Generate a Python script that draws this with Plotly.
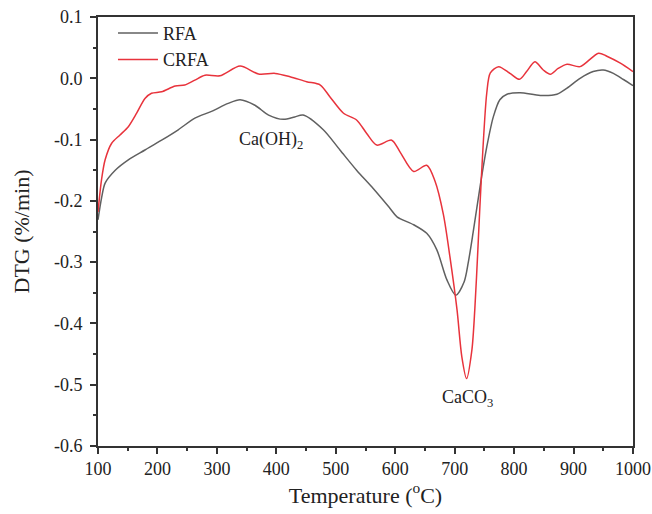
import plotly.graph_objects as go

# RFA (gray) DTG curve
rfa_T = [100, 106, 112, 129, 151, 179, 207, 235, 263, 291, 319, 339, 364, 387, 412, 431, 445,
         479, 507, 535, 563, 591, 603, 631, 653, 670, 687, 702, 716, 723, 731, 743, 754, 765,
         776, 788, 810, 844, 872, 889, 911, 933, 950, 967, 984, 1000]
rfa_v = [-0.231, -0.195, -0.171, -0.150, -0.133, -0.117, -0.101, -0.084, -0.065, -0.054, -0.041,
         -0.035, -0.044, -0.060, -0.067, -0.063, -0.060, -0.084, -0.117, -0.150, -0.180, -0.212,
         -0.226, -0.239, -0.253, -0.280, -0.329, -0.354, -0.332, -0.300, -0.252, -0.175, -0.112,
         -0.063, -0.035, -0.026, -0.0235, -0.028, -0.026, -0.016, 0.000, 0.011, 0.0135, 0.008,
         -0.002, -0.012]

# CRFA (red) DTG curve
crfa_T = [100, 106, 112, 123, 137, 151, 165, 179, 190, 207, 230, 246, 263, 280, 305, 339, 370,
          398, 423, 451, 474, 490, 513, 535, 552, 569, 594, 608, 631, 653, 667, 681, 692, 704,
          712, 720, 729, 734, 739, 745, 754, 760, 774, 793, 809, 821, 835, 849, 861, 874,
          889, 911, 942, 956, 978, 1000]
crfa_v = [-0.218, -0.165, -0.133, -0.106, -0.0925, -0.079, -0.057, -0.033, -0.0245, -0.022,
          -0.0126, -0.011, -0.003, 0.005, 0.004, 0.020, 0.007, 0.008, 0.0026, -0.0055, -0.011,
          -0.030, -0.057, -0.068, -0.090, -0.109, -0.101, -0.120, -0.152, -0.142, -0.168, -0.222,
          -0.291, -0.378, -0.454, -0.490, -0.443, -0.375, -0.280, -0.160, -0.024, 0.009, 0.019,
          0.008, -0.0017, 0.011, 0.027, 0.0135, 0.0065, 0.016, 0.023, 0.019, 0.041, 0.036,
          0.025, 0.011]

x_ticks = [100, 200, 300, 400, 500, 600, 700, 800, 900, 1000]
y_ticks = [0.1, 0.0, -0.1, -0.2, -0.3, -0.4, -0.5, -0.6]
y_tick_labels = ["0.1", "0.0", "-0.1", "-0.2", "-0.3", "-0.4", "-0.5", "-0.6"]

FONT = "Liberation Serif, Times New Roman, serif"
TXT = "#222222"

fig = go.Figure()
fig.add_trace(go.Scatter(x=rfa_T, y=rfa_v, mode="lines", name="RFA",
                         line=dict(color="#606060", width=1.5, shape="spline", smoothing=0.8)))
fig.add_trace(go.Scatter(x=crfa_T, y=crfa_v, mode="lines", name="CRFA",
                         line=dict(color="#e8333c", width=1.5, shape="spline", smoothing=0.8)))

axis_common = dict(showgrid=False, zeroline=False, showline=True, linecolor="#333333",
                   linewidth=1.6, mirror=True, ticks="outside", ticklen=6, tickwidth=1.5,
                   tickcolor="#333333", automargin=False,
                   tickfont=dict(family=FONT, size=18, color=TXT))

fig.update_xaxes(range=[100, 1000], tickvals=x_ticks,
                 minor=dict(ticks="outside", dtick=50, ticklen=3, tickwidth=1.5, tickcolor="#333333"),
                 title=dict(text="Temperature (<sup>o</sup>C)", font=dict(family=FONT, size=22, color=TXT), standoff=8),
                 **axis_common)
fig.update_yaxes(range=[-0.6, 0.1], tickvals=y_ticks, ticktext=y_tick_labels,
                 minor=dict(ticks="outside", dtick=0.05, ticklen=3, tickwidth=1.5, tickcolor="#333333"),
                 title=dict(text="DTG (%/min)", font=dict(family=FONT, size=22, color=TXT), standoff=18),
                 ticklabelstandoff=4,
                 **axis_common)

fig.add_annotation(x=391, y=-0.102, text="Ca(OH)<sub>2</sub>", showarrow=False,
                   font=dict(family=FONT, size=18, color=TXT))
fig.add_annotation(x=721, y=-0.522, text="CaCO<sub>3</sub>", showarrow=False,
                   font=dict(family=FONT, size=18, color=TXT))

fig.update_layout(width=652, height=514, margin=dict(l=98, r=19, t=17, b=68),
                  plot_bgcolor="white", paper_bgcolor="white",
                  legend=dict(x=0.028, y=1.005, xanchor="left", yanchor="top", itemwidth=40,
                              bgcolor="rgba(0,0,0,0)", tracegroupgap=0,
                              font=dict(family=FONT, size=18, color=TXT)),
                  )

fig.write_html("out.html")
